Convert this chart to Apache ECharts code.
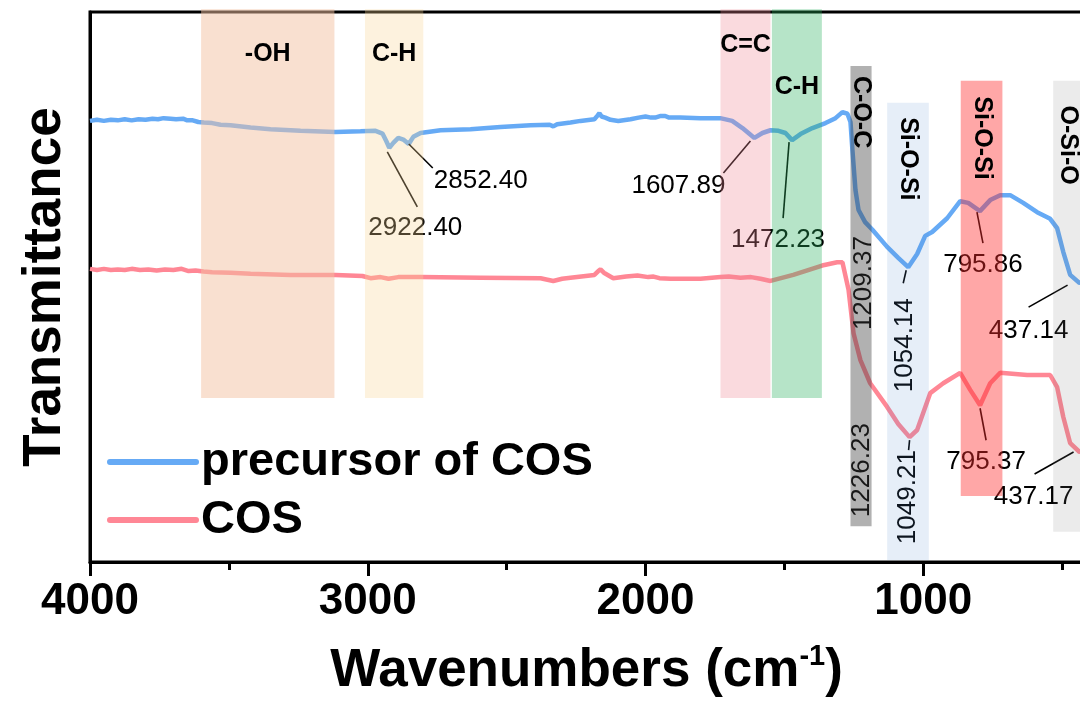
<!DOCTYPE html>
<html>
<head>
<meta charset="utf-8">
<script src="https://cdn.jsdelivr.net/npm/echarts@6/dist/echarts.min.js"></script>
<style>
  html, body { margin: 0; padding: 0; background: #fff; }
  #chart { width: 1080px; height: 704px; }
</style>
</head>
<body>
<div id="chart"></div>
<script>
// FTIR spectra: [wavenumber (cm-1), transmittance (a.u.)]
const precursorSpectrum = [
  [4000,80.2],[3975,80.4],[3950,80.2],[3925,80.4],[3900,80.3],[3875,80.5],[3850,80.3],[3825,80.5],
  [3800,80.4],[3775,80.6],[3755,80.5],[3735,80.7],[3710,80.6],[3690,80.5],[3665,80.6],[3650,80.3],
  [3630,80.3],[3610,80.0],[3590,79.9],[3560,79.8],[3530,79.5],[3494,79.4],[3422,79.0],[3350,78.7],
  [3242,78.4],[3116,78.2],[3026,78.3],[2972,78.4],[2947,77.9],[2933,76.5],[2922.40,75.3],[2908,76.2],
  [2890,77.1],[2872,76.8],[2852.40,76.0],[2836,77.3],[2810,78.0],[2738,78.5],[2630,78.7],[2522,79.1],
  [2414,79.4],[2345,79.5],[2332,79.2],[2318,79.6],[2270,79.9],[2234,80.2],[2184,80.5],[2172,81.2],
  [2166,81.6],[2158,81.0],[2145,80.8],[2126,80.4],[2098,80.2],[2054,80.5],[2025,80.8],[2000,81.0],
  [1980,80.8],[1965,80.8],[1945,81.1],[1929,81.1],[1915,80.8],[1875,80.8],[1803,80.7],[1731,80.7],
  [1688,80.2],[1651,78.9],[1607.89,77.1],[1579,78.0],[1550,78.5],[1521,78.4],[1496,78.0],[1472.23,76.7],
  [1442,77.8],[1399,78.9],[1352,79.8],[1316,80.7],[1291,81.8],[1273,81.5],[1262,80.0],[1255,74.9],
  [1244,67.6],[1233,64.0],[1209.37,61.8],[1183,60.4],[1130,57.3],[1090,55.3],[1054.14,53.6],[1022,56.0],
  [993,59.3],[968,60.0],[914,62.5],[867,65.6],[838,65.3],[795.86,63.8],[759,65.8],[723,66.7],
  [687,66.7],[640,65.3],[590,63.6],[543,62.4],[518,60.7],[496,56.4],[471,52.2],[437.14,50.7],
  [418,51.3],[400,52.0]
];
const cosSpectrum = [
  [4000,53.3],[3975,53.1],[3950,53.3],[3925,53.1],[3900,53.2],[3875,53.1],[3850,53.3],[3820,53.1],
  [3790,53.2],[3760,53.0],[3730,53.2],[3700,53.1],[3670,53.3],[3645,52.9],[3620,53.0],[3591,52.8],
  [3560,52.7],[3494,52.6],[3422,52.4],[3278,52.2],[3116,52.2],[3019,52.0],[2990,51.6],[2954,51.8],
  [2925,51.5],[2890,51.8],[2810,51.8],[2594,51.7],[2378,51.6],[2332,51.1],[2300,51.5],[2270,51.7],
  [2184,52.2],[2170,52.9],[2162,53.2],[2150,52.6],[2116,51.6],[2070,51.9],[2029,52.1],[1990,51.8],
  [1971,51.9],[1950,51.6],[1910,51.5],[1802,51.5],[1730,51.8],[1700,51.9],[1658,51.7],[1620,51.8],
  [1586,51.5],[1550,51.1],[1468,52.2],[1364,53.9],[1310,54.5],[1291,54.5],[1269,49.5],[1251,41.6],
  [1226.23,36.7],[1191,32.5],[1130,28.2],[1090,25.1],[1049.21,22.7],[1022,24.0],[975,30.7],[928,32.5],
  [867,34.4],[831,31.3],[795.37,28.5],[759,32.5],[723,34.4],[626,34.0],[543,34.0],[518,31.8],
  [496,26.4],[471,21.6],[437.17,20.0],[418,20.4],[400,20.9]
];

const seriesNames = ['precursor of COS', 'COS'];
const wavenumberTicks = [4000, 3000, 2000, 1000];

// Labelled absorption peaks (cm-1)
const precursorPeaks = [2922.40, 2852.40, 1607.89, 1472.23, 1209.37, 1054.14, 795.86, 437.14];
const cosPeaks = [1226.23, 1049.21, 795.37, 437.17];

// Assigned vibration bands: [from, to] in cm-1
const bandRanges = [[3600,3120],[3010,2800],[1730,1550],[1545,1365],[1262,1186],[1130,980],[865,715],[532,430]];
const bandNames = ['-OH', 'C-H', 'C=C', 'C-H', 'C-O-C', 'Si-O-Si', 'Si-O-Si', 'O-Si-O'];

// ---- presentation ----
const FONT = '"Liberation Sans", Arial, Helvetica, sans-serif';
const BLUE = '#66AAF5';
const PINK = '#FF8795';

// band box: [top, bottom] on the transmittance axis, fill, label centre on the y axis, label rotation
const bandStyle = [
  { span: [100.5, 29.8], fill: 'rgba(244,194,162,0.5)',  labelY: 92.4, rot: 0 },
  { span: [100.5, 29.8], fill: 'rgba(248,213,150,0.31)', labelY: 92.4, rot: 0 },
  { span: [100.5, 29.8], fill: 'rgba(239,135,148,0.31)', labelY: 94.0, rot: 0 },
  { span: [100.5, 29.8], fill: 'rgba(40,175,95,0.34)',   labelY: 86.4, rot: 0 },
  { span: [90.2, 6.5],   fill: 'rgba(60,60,60,0.4)',     labelY: 81.8, rot: -90 },
  { span: [83.5, 0.3],   fill: 'rgba(88,142,208,0.15)',  labelY: 73.3, rot: -90 },
  { span: [87.5, 12.0],  fill: 'rgba(255,46,46,0.42)',   labelY: 77.1, rot: -90 },
  { span: [87.5, 5.5],   fill: 'rgba(122,122,122,0.15)', labelY: 75.8, rot: -90 }
];

// peak annotation placement, pixel offsets from the peak: leader [x1,y1,x2,y2], label centre [dx,dy], rotation
const precursorPeakStyle = [
  { leader: [-2, 4, 28, 59],   label: [26, 80],  rot: 0 },
  { leader: [0, 0, 24, 24],    label: [72, 37],  rot: 0 },
  { leader: [-4, 3, -31, 35],  label: [-76, 48], rot: 0 },
  { leader: [-3, 2, -9, 78],   label: [-14, 100], rot: 0 },
  { leader: null,              label: [-1, 61],  rot: 90 },
  { leader: [-2, 3, -5, 16],   label: [-3, 78],  rot: 90 },
  { leader: [-3, 1, 3, 32],    label: [3, 54],   rot: 0 },
  { leader: [-12, 2, -51, 24], label: [-51, 48], rot: 0 }
];
const cosPeakStyle = [
  { leader: null,              label: [1, 110],  rot: 90 },
  { leader: [0, 3, -1, 13],    label: [-2, 60],  rot: 90 },
  { leader: [0, 3, 6, 35],     label: [6, 57],   rot: 0 },
  { leader: [-6, 0, -45, 22],  label: [-46, 45], rot: 0 }
];

function peakPoints(spectrum, peaks) {
  return peaks.map(w => spectrum.find(p => p[0] === w));
}

function peakSeries(spectrum, peaks, styles) {
  return {
    type: 'custom',
    z: 4,
    silent: true,
    data: peakPoints(spectrum, peaks),
    encode: { x: 0, y: 1 },
    renderItem: function (params, api) {
      const s = styles[params.dataIndex];
      const w = api.value(0);
      const p = api.coord([w, api.value(1)]);
      const children = [];
      if (s.leader) {
        children.push({
          type: 'line',
          shape: { x1: p[0] + s.leader[0], y1: p[1] + s.leader[1], x2: p[0] + s.leader[2], y2: p[1] + s.leader[3] },
          style: { stroke: '#000', lineWidth: 1.6 }
        });
      }
      children.push({
        type: 'text',
        x: p[0] + s.label[0],
        y: p[1] + s.label[1],
        rotation: s.rot * Math.PI / 180,
        style: {
          text: w.toFixed(2),
          fill: '#000',
          font: '26px ' + FONT,
          align: 'center',
          verticalAlign: 'middle'
        }
      });
      return { type: 'group', children: children };
    }
  };
}

const bandSeries = {
  type: 'custom',
  z: 10,
  silent: true,
  data: bandRanges.map((r, i) => [r[0], r[1], i]),
  encode: { x: [0, 1] },
  renderItem: function (params, api) {
    const i = params.dataIndex;
    const st = bandStyle[i];
    const a = api.coord([api.value(0), st.span[0]]);
    const b = api.coord([api.value(1), st.span[1]]);
    const x0 = Math.min(a[0], b[0]);
    const x1 = Math.max(a[0], b[0]);
    const lc = api.coord([(api.value(0) + api.value(1)) / 2, st.labelY]);
    return {
      type: 'group',
      children: [
        {
          type: 'rect',
          shape: { x: x0, y: a[1], width: x1 - x0, height: b[1] - a[1] },
          style: { fill: st.fill }
        },
        {
          type: 'text',
          x: lc[0],
          y: lc[1],
          rotation: st.rot * Math.PI / 180,
          style: {
            text: bandNames[i],
            fill: '#000',
            font: 'bold 25px ' + FONT,
            align: 'center',
            verticalAlign: 'middle'
          }
        }
      ]
    };
  }
};

const chart = echarts.init(document.getElementById('chart'), null, { renderer: 'canvas' });

chart.setOption({
  animation: false,
  backgroundColor: '#fff',
  grid: {
    left: 90, top: 12, width: 1111, height: 550,
    outerBoundsMode: 'none',
    show: true, borderColor: '#000', borderWidth: 3, backgroundColor: 'transparent'
  },
  legend: {
    data: seriesNames,
    orient: 'vertical',
    left: 102, top: 428,
    itemWidth: 86, itemHeight: 6, itemGap: 0,
    textStyle: {
      fontSize: 47, fontWeight: 'bold', fontFamily: FONT, color: '#000',
      lineHeight: 58
    },
    lineStyle: { width: 6, cap: 'round' }
  },
  xAxis: {
    type: 'value',
    inverse: true,
    min: 0, max: 4000, interval: 1000,
    axisLine: { onZero: false, lineStyle: { color: '#000', width: 3 } },
    axisTick: { show: true, length: 14, lineStyle: { color: '#000', width: 3 } },
    minorTick: { show: true, splitNumber: 2, length: 8, lineStyle: { color: '#000', width: 3 } },
    splitLine: { show: false },
    axisLabel: {
      fontSize: 44, fontWeight: 'bold', fontFamily: FONT, color: '#000', margin: 18,
      formatter: v => (wavenumberTicks.indexOf(v) >= 0 ? String(v) : '')
    },
    name: 'Wavenumbers (cm{sup|-1})',
    nameLocation: 'middle',
    nameGap: 80,
    nameTextStyle: {
      fontSize: 53, fontWeight: 'bold', fontFamily: FONT, color: '#000', lineHeight: 58,
      padding: [0, 118, 0, 0],
      rich: {
        sup: { fontSize: 29, fontWeight: 'bold', fontFamily: FONT, color: '#000', verticalAlign: 'top', lineHeight: 58 }
      }
    }
  },
  yAxis: {
    type: 'value',
    min: 0, max: 100,
    axisLine: { show: true, onZero: false, lineStyle: { color: '#000', width: 3 } },
    axisTick: { show: false },
    axisLabel: { show: false },
    splitLine: { show: false },
    name: 'Transmittance',
    nameLocation: 'middle',
    nameGap: 18,
    nameTextStyle: { fontSize: 53, fontWeight: 'bold', fontFamily: FONT, color: '#000' }
  },
  series: [
    {
      name: seriesNames[0], type: 'line', data: precursorSpectrum,
      showSymbol: false, symbol: 'none', z: 2,
      lineStyle: { color: BLUE, width: 4.5 }, itemStyle: { color: BLUE }
    },
    {
      name: seriesNames[1], type: 'line', data: cosSpectrum,
      showSymbol: false, symbol: 'none', z: 2,
      lineStyle: { color: PINK, width: 4.5 }, itemStyle: { color: PINK }
    },
    peakSeries(precursorSpectrum, precursorPeaks, precursorPeakStyle),
    peakSeries(cosSpectrum, cosPeaks, cosPeakStyle),
    bandSeries
  ]
});
</script>
</body>
</html>
